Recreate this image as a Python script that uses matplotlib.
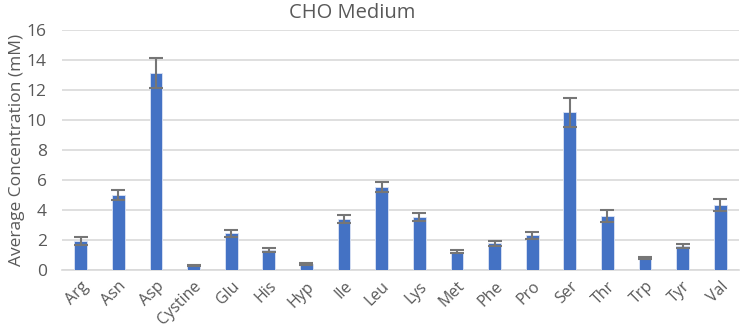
import matplotlib
matplotlib.use("Agg")
import matplotlib.pyplot as plt
import matplotlib.transforms as mtransforms
import numpy as np

categories = ["Arg", "Asn", "Asp", "Cystine", "Glu", "His", "Hyp", "Ile", "Leu",
              "Lys", "Met", "Phe", "Pro", "Ser", "Thr", "Trp", "Tyr", "Val"]
values = [1.95, 5.0, 13.15, 0.3, 2.44, 1.36, 0.4, 3.4, 5.51,
          3.56, 1.22, 1.78, 2.31, 10.51, 3.62, 0.8, 1.6, 4.33]
errors = [0.25, 0.35, 1.0, 0.05, 0.25, 0.13, 0.05, 0.25, 0.33,
          0.27, 0.1, 0.17, 0.23, 0.95, 0.4, 0.05, 0.12, 0.38]
yticks = [0, 2, 4, 6, 8, 10, 12, 14, 16]

plt.rcParams['font.family'] = ['Open Sans', 'DejaVu Sans']
txt = '#595959'
fs = 12.5

fig = plt.figure(figsize=(7.43, 3.3), dpi=100)
ax = fig.add_axes([0.0834, 0.1818, 0.9112, 0.7273])

x = np.arange(len(categories))
ax.bar(x, values, width=0.34, color='#4472C4', edgecolor='#DCE4F5', linewidth=0.6, zorder=3)
ax.errorbar(x, values, yerr=errors, fmt='none', ecolor='#767676', elinewidth=1.5,
            capsize=5, capthick=1.5, zorder=4)

ax.set_xlim(-0.5, len(categories) - 0.5)
ax.set_ylim(0, 16)
ax.set_yticks(yticks)
ax.set_yticklabels([str(t) for t in yticks], fontsize=fs, color=txt)
ax.set_xticks(x)
ax.set_xticklabels(categories, rotation=45, ha='right', rotation_mode='anchor',
                   fontsize=11.5, color=txt)
offset = mtransforms.ScaledTranslation(9 / 100, 0, fig.dpi_scale_trans)
for lbl in ax.get_xticklabels():
    lbl.set_transform(lbl.get_transform() + offset)
ax.tick_params(axis='both', length=0)
ax.tick_params(axis='x', pad=6)
ax.tick_params(axis='y', pad=11)
ax.grid(axis='y', color='#D9D9D9', linewidth=1.2, zorder=0)
for s in ['top', 'right', 'left']:
    ax.spines[s].set_visible(False)
ax.spines['bottom'].set_color('#D9D9D9')
ax.spines['bottom'].set_linewidth(1.2)

ax.set_ylabel("Average Concentration (mM)", fontsize=fs, color=txt)
ax.yaxis.set_label_coords(-0.054, 0.5)
fig.text(0.474, 0.962, "CHO Medium", ha='center', va='center', fontsize=14.5, color=txt)

fig.savefig("out.png", dpi=100)
